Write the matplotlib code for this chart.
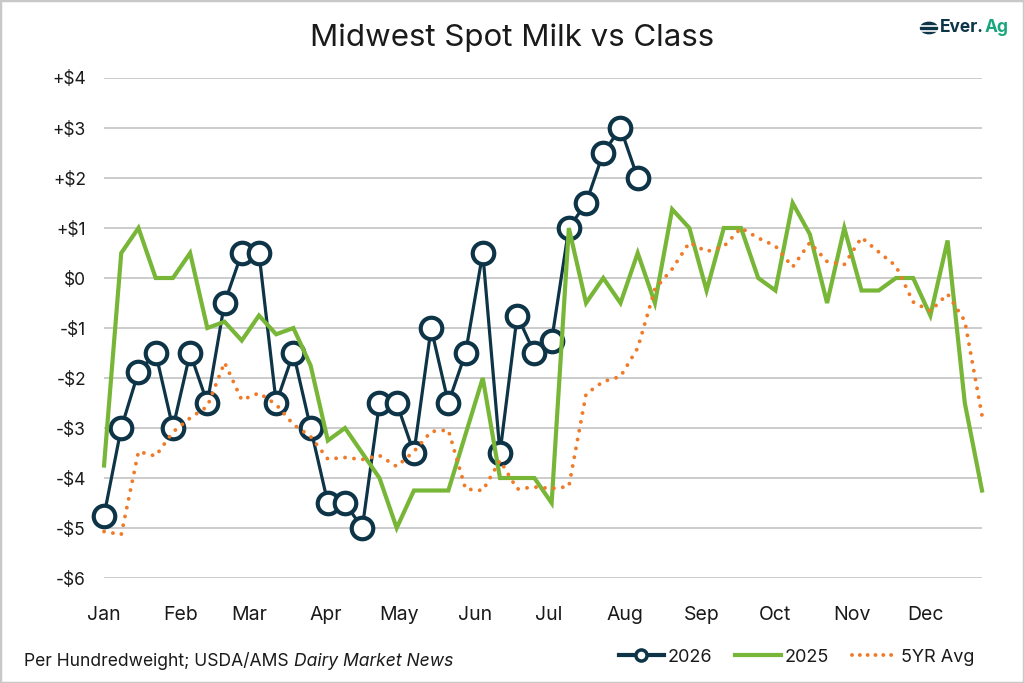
import numpy as np
import matplotlib
matplotlib.use("Agg")
import matplotlib.pyplot as plt
from matplotlib.lines import Line2D
from matplotlib.patches import Rectangle, Circle

plt.rcParams['font.family'] = ['Inter', 'DejaVu Sans']

# weekly values, $/cwt spot premium vs class
spot_2026 = [-4.75, -3, -1.875, -1.5, -3, -1.5, -2.5, -0.5, 0.5, 0.5, -2.5, -1.5,
             -3, -4.5, -4.5, -5, -2.5, -2.5, -3.5, -1, -2.5, -1.5, 0.5, -3.5,
             -0.75, -1.5, -1.25, 1, 1.5, 2.5, 3, 2]
spot_2025 = [-3.75, 0.5, 1.0, 0, 0, 0.5, -1.0, -0.875, -1.25, -0.75, -1.125, -1.0,
             -1.75, -3.25, -3.0, -3.5, -4.0, -5.0, -4.25, -4.25, -4.25, -3.125, -2.0,
             -4.0, -4.0, -4.0, -4.5, 1.0, -0.5, 0, -0.5, 0.5, -0.5, 1.375, 1.0, -0.25,
             1.0, 1.0, 0, -0.25, 1.5, 0.875, -0.5, 1.0, -0.25, -0.25, 0, 0, -0.75,
             0.75, -2.5, -4.25]
avg_5yr = [-5.07, -5.13, -3.47, -3.56, -3.08, -2.8, -2.57, -1.69, -2.44, -2.3,
           -2.53, -2.93, -3.17, -3.62, -3.59, -3.63, -3.55, -3.77, -3.47, -3.07,
           -3.04, -4.22, -4.25, -3.65, -4.22, -4.18, -4.21, -4.17, -2.32, -2.07,
           -1.97, -1.4, -0.22, 0.18, 0.71, 0.53, 0.63, 1.0, 0.8, 0.64,
           0.22, 0.71, 0.33, 0.27, 0.81, 0.52, 0.24, -0.48, -0.66, -0.32,
           -0.86, -2.75]

months = ['Jan', 'Feb', 'Mar', 'Apr', 'May', 'Jun', 'Jul', 'Aug', 'Sep', 'Oct', 'Nov', 'Dec']
month_starts = [0, 31, 59, 90, 120, 151, 181, 212, 243, 273, 304, 334]  # day of year
y_ticks = [-6, -5, -4, -3, -2, -1, 0, 1, 2, 3, 4]
y_labels = ['-$6', '-$5', '-$4', '-$3', '-$2', '-$1', '$0', '+$1', '+$2', '+$3', '+$4']

navy = '#0d3447'
green = '#78b638'
orange = '#ef7b28'
text_col = '#1a1a1a'

fig = plt.figure(figsize=(10.24, 6.83), dpi=100)
ax = fig.add_axes([0.1016, 0.1537, 0.8574, 0.7321])

days26 = np.arange(len(spot_2026)) * 7
days25 = np.arange(len(spot_2025)) * 7
days5 = np.arange(len(avg_5yr)) * 7

ax.plot(days26, spot_2026, color=navy, lw=2.3, marker='o', ms=15.5, mfc='white',
        mec=navy, mew=3, zorder=3, clip_on=False)
ax.plot(days25, spot_2025, color=green, lw=3, solid_joinstyle='miter', zorder=4, clip_on=False)
ax.plot(days5, avg_5yr, color=orange, lw=2.8, ls=(0, (0.01, 2.3)),
        dash_capstyle='round', zorder=5, clip_on=False)

ax.set_xlim(0, 357)
ax.set_ylim(-6, 4)
ax.set_xticks(month_starts)
ax.set_xticklabels(months)
ax.set_yticks(y_ticks)
ax.set_yticklabels(y_labels)
ax.grid(axis='y', color='#c8c8c8', lw=1.3)
ax.set_axisbelow(True)
for s in ax.spines.values():
    s.set_visible(False)
ax.tick_params(axis='both', length=0, colors=text_col)
ax.tick_params(axis='x', pad=20, labelsize=14)
ax.tick_params(axis='y', pad=13, labelsize=12.5)

fig.text(0.5, 1 - 38 / 683, 'Midwest Spot Milk vs Class', ha='center', va='center',
         fontsize=22.5, color=text_col)

# footer
fy = 1 - 661 / 683
t1 = fig.text(24 / 1024, fy, 'Per Hundredweight; USDA/AMS ', ha='left', va='center',
              fontsize=12.6, color=text_col)
fig.canvas.draw()
bb = t1.get_window_extent()
fig.text(bb.x1 / fig.bbox.width, fy, 'Dairy Market News', ha='left', va='center',
         fontsize=12.6, style='italic', color=text_col)

handles = [
    Line2D([], [], color=navy, lw=3, marker='o', ms=8, mfc='white', mec=navy, mew=2.5),
    Line2D([], [], color=green, lw=3),
    Line2D([], [], color=orange, lw=2.8, ls=(0, (0.01, 2.0)), dash_capstyle='round'),
]
fig.legend(handles, ['2026', '2025', '5YR Avg'], loc='center right',
           bbox_to_anchor=(974 / 1024, 1 - 657 / 683), ncol=3, frameon=False,
           fontsize=13, handlelength=2.5, handletextpad=0.2, columnspacing=1.3,
           borderaxespad=0, borderpad=0, labelcolor=text_col)

# logo
ly = 1 - 28 / 683
fig.patches.append(Circle((929 / 1024, ly), 8.5 / 1024, transform=fig.transFigure,
                          color=navy, zorder=5))
for dy in (-2.5, 2.5):
    fig.lines.append(Line2D([920 / 1024, 938 / 1024], [ly + dy / 683, ly + dy / 683],
                            transform=fig.transFigure, color='white', lw=1.2, zorder=6))
t2 = fig.text(940 / 1024, ly, 'Ever.', ha='left', va='center', fontsize=12.5,
              fontweight='bold', color=navy)
fig.canvas.draw()
bb2 = t2.get_window_extent()
fig.text((bb2.x1 + 0.5) / fig.bbox.width, ly, 'Ag', ha='left', va='center', fontsize=12.5,
         fontweight='bold', color='#1aa67b')

fig.patches.append(Rectangle((0, 0), 1, 1, transform=fig.transFigure, fill=False,
                             ec='#c8c8c8', lw=2.5))

fig.savefig('out.png', dpi=100)
